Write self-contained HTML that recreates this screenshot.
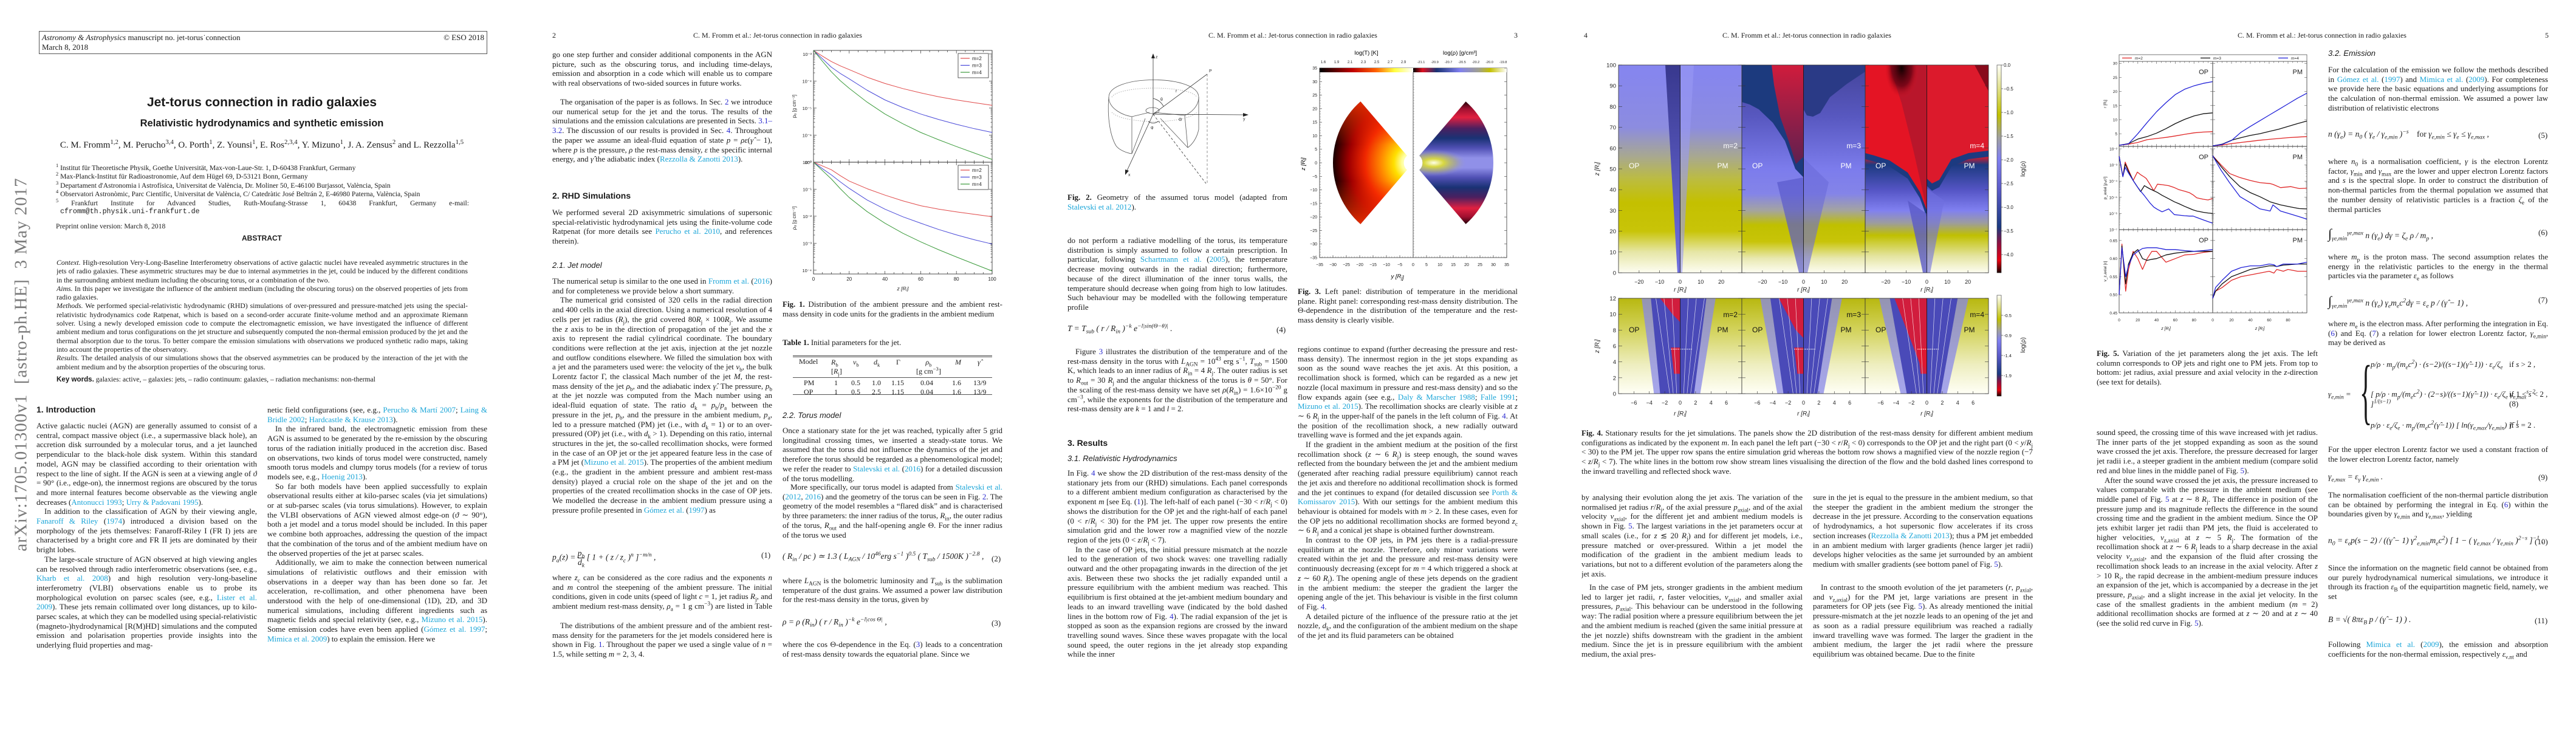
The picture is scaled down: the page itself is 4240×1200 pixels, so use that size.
<!DOCTYPE html>
<html><head><meta charset="utf-8">
<style>
*{margin:0;padding:0;box-sizing:border-box}
body{width:4240px;height:1200px;background:#fff;position:relative;overflow:hidden;font-family:"Liberation Serif",serif;color:#1a1a1a}
sub,sup{line-height:0;font-size:72%}
.pg{position:absolute;top:0;width:848px;height:1200px}
.t{position:absolute;font-size:13px;line-height:15.7px;text-align:justify;overflow:hidden;hyphens:auto}
.t p+p{text-indent:13px}
.c{color:#1aa5d8}
.b{color:#2a2ad0}
.h1{position:absolute;font-family:"Liberation Sans",sans-serif;font-weight:bold;font-size:14px}
.h2{position:absolute;font-family:"Liberation Sans",sans-serif;font-style:italic;font-size:13px}
.hd{position:absolute;top:51px;font-size:12px;width:848px;text-align:center}
.pn{position:absolute;top:51px;font-size:12px}
.eq{position:absolute;font-size:13.5px;font-style:italic;white-space:nowrap}
.eqn{position:absolute;font-size:13px;white-space:nowrap}
.cap{position:absolute;font-size:13px;line-height:15.7px;text-align:justify;overflow:hidden}
.ab{position:absolute;font-size:11.8px;line-height:14.3px;text-align:justify;overflow:hidden}
svg text{font-family:"Liberation Sans",sans-serif}
</style></head><body>

<!-- PAGE 1 -->
<div class="pg" style="left:0">
 <div style="position:absolute;left:64px;top:51px;width:738px;height:38px;border:1px solid #555;font-size:13px;line-height:16px;padding:2px 4px">
  <div><i>Astronomy &amp; Astrophysics</i> manuscript no. jet-torus˙connection<span style="float:right">© ESO 2018</span></div>
  <div>March 8, 2018</div>
 </div>
 <div style="position:absolute;left:0;width:862px;top:157px;text-align:center;font-family:'Liberation Sans',sans-serif;font-weight:bold;font-size:21px">Jet-torus connection in radio galaxies</div>
 <div style="position:absolute;left:0;width:862px;top:194px;text-align:center;font-family:'Liberation Sans',sans-serif;font-weight:bold;font-size:16.5px">Relativistic hydrodynamics and synthetic emission</div>
 <div style="position:absolute;left:0;width:862px;top:231px;text-align:center;font-size:15px">C. M. Fromm<sup>1,2</sup>, M. Perucho<sup>3,4</sup>, O. Porth<sup>1</sup>, Z. Younsi<sup>1</sup>, E. Ros<sup>2,3,4</sup>, Y. Mizuno<sup>1</sup>, J. A. Zensus<sup>2</sup> and L. Rezzolla<sup>1,5</sup></div>
 <div style="position:absolute;left:92px;top:270px;width:680px;font-size:11.6px;line-height:14.4px">
  <div><sup>1</sup> Institut für Theoretische Physik, Goethe Universität, Max-von-Laue-Str. 1, D-60438 Frankfurt, Germany</div>
  <div><sup>2</sup> Max-Planck-Institut für Radioastronomie, Auf dem Hügel 69, D-53121 Bonn, Germany</div>
  <div><sup>3</sup> Departament d'Astronomia i Astrofísica, Universitat de València, Dr. Moliner 50, E-46100 Burjassot, València, Spain</div>
  <div><sup>4</sup> Observatori Astronòmic, Parc Científic, Universitat de València, C/ Catedràtic José Beltrán 2, E-46980 Paterna, València, Spain</div>
  <div style="text-align:justify;text-align-last:justify"><sup>5</sup> Frankfurt Institute for Advanced Studies, Ruth-Moufang-Strasse 1, 60438 Frankfurt, Germany e-mail:</div>
  <div style="font-family:'Liberation Mono',monospace;padding-left:7px">cfromm@th.physik.uni-frankfurt.de</div>
 </div>
 <div style="position:absolute;left:92px;top:366px;font-size:11.6px">Preprint online version: March 8, 2018</div>
 <div style="position:absolute;left:0;width:862px;top:385px;text-align:center;font-family:'Liberation Sans',sans-serif;font-weight:bold;font-size:12px">ABSTRACT</div>
 <div class="ab" style="left:93px;top:425px;width:677px;height:186px">
  <div><i>Context.</i> High-resolution Very-Long-Baseline Interferometry observations of active galactic nuclei have revealed asymmetric structures in the jets of radio galaxies. These asymmetric structures may be due to internal asymmetries in the jet, could be induced by the different conditions in the surrounding ambient medium including the obscuring torus, or a combination of the two.</div>
  <div><i>Aims.</i> In this paper we investigate the influence of the ambient medium (including the obscuring torus) on the observed properties of jets from radio galaxies.</div>
  <div><i>Methods.</i> We performed special-relativistic hydrodynamic (RHD) simulations of over-pressured and pressure-matched jets using the special-relativistic hydrodynamics code Ratpenat, which is based on a second-order accurate finite-volume method and an approximate Riemann solver. Using a newly developed emission code to compute the electromagnetic emission, we have investigated the influence of different ambient medium and torus configurations on the jet structure and subsequently computed the non-thermal emission produced by the jet and the thermal absorption due to the torus. To better compare the emission simulations with observations we produced synthetic radio maps, taking into account the properties of the observatory.</div>
  <div><i>Results.</i> The detailed analysis of our simulations shows that the observed asymmetries can be produced by the interaction of the jet with the ambient medium and by the absorption properties of the obscuring torus.</div>
 </div>
 <div style="position:absolute;left:93px;top:618px;font-size:11.6px"><b style="font-family:'Liberation Sans',sans-serif">Key words.</b> galaxies: active, – galaxies: jets, – radio continuum: galaxies, – radiation mechanisms: non-thermal</div>
 <div style="position:absolute;left:35px;top:600px;transform:translate(-50%,-50%) rotate(-90deg);white-space:nowrap;font-size:29px;color:#7a7a7a;letter-spacing:1px">arXiv:1705.01300v1&nbsp; [astro-ph.HE]&nbsp; 3 May 2017</div>
 <div class="h1" style="left:60px;top:666px">1. Introduction</div>
 <div class="t" style="left:60px;top:693px;width:363px;height:393px">
  <p>Active galactic nuclei (AGN) are generally assumed to consist of a central, compact massive object (i.e., a supermassive black hole), an accretion disk surrounded by a molecular torus, and a jet launched perpendicular to the black-hole disk system. Within this standard model, AGN may be classified according to their orientation with respect to the line of sight. If the AGN is seen at a viewing angle of <i>ϑ</i> = 90° (i.e., edge-on), the innermost regions are obscured by the torus and more internal features become observable as the viewing angle decreases (<span class="c">Antonucci 1993</span>; <span class="c">Urry &amp; Padovani 1995</span>).</p>
  <p>In addition to the classification of AGN by their viewing angle, <span class="c">Fanaroff &amp; Riley</span> (<span class="c">1974</span>) introduced a division based on the morphology of the jets themselves: Fanaroff-Riley I (FR I) jets are characterised by a bright core and FR II jets are dominated by their bright lobes.</p>
  <p>The large-scale structure of AGN observed at high viewing angles can be resolved through radio interferometric observations (see, e.g., <span class="c">Kharb et al. 2008</span>) and high resolution very-long-baseline interferometry (VLBI) observations enable us to probe its morphological evolution on parsec scales (see, e.g., <span class="c">Lister et al. 2009</span>). These jets remain collimated over long distances, up to kilo-parsec scales, at which they can be modelled using special-relativistic (magneto-)hydrodynamical [R(M)HD] simulations and the computed emission and polarisation properties provide insights into the underlying fluid properties and mag-</p>
 </div>
 <div class="t" style="left:440px;top:667px;width:362px;height:409px">
  <p>netic field configurations (see, e.g., <span class="c">Perucho &amp; Martí 2007</span>; <span class="c">Laing &amp; Bridle 2002</span>; <span class="c">Hardcastle &amp; Krause 2013</span>).</p>
  <p>In the infrared band, the electromagnetic emission from these AGN is assumed to be generated by the re-emission by the obscuring torus of the radiation initially produced in the accretion disc. Based on observations, two kinds of torus model were constructed, namely smooth torus models and clumpy torus models (for a review of torus models see, e.g., <span class="c">Hoenig 2013</span>).</p>
  <p>So far both models have been applied successfully to explain observational results either at kilo-parsec scales (via jet simulations) or at sub-parsec scales (via torus simulations). However, to explain the VLBI observations of AGN viewed almost edge-on (<i>ϑ</i> ∼ 90°), both a jet model and a torus model should be included. In this paper we combine both approaches, addressing the question of the impact that the combination of the torus and of the ambient medium have on the observed properties of the jet at parsec scales.</p>
  <p>Additionally, we aim to make the connection between numerical simulations of relativistic outflows and their emission with observations in a deeper way than has been done so far. Jet acceleration, re-collimation, and other phenomena have been understood with the help of one-dimensional (1D), 2D, and 3D numerical simulations, including different ingredients such as magnetic fields and special relativity (see, e.g., <span class="c">Mizuno et al. 2015</span>). Some emission codes have even been applied (<span class="c">Gómez et al. 1997</span>; <span class="c">Mimica et al. 2009</span>) to explain the emission. Here we</p>
 </div>
</div>

<!-- PAGE 2 -->
<div class="pg" style="left:848px">
 <div class="pn" style="left:61px">2</div>
 <div class="hd" style="left:8px">C. M. Fromm et al.: Jet-torus connection in radio galaxies</div>
 <div class="t" style="left:61px;top:82px;width:362px;height:79px"><p>go one step further and consider additional components in the AGN picture, such as the obscuring torus, and including time-delays, emission and absorption in a code which will enable us to compare with real observations of two-sided sources in future works.</p></div>
 <div class="t" style="left:61px;top:160px;width:362px;height:126px"><p style="text-indent:13px">The organisation of the paper is as follows. In Sec. <span class="b">2</span> we introduce our numerical setup for the jet and the torus. The results of the simulations and the emission calculations are presented in Sects. <span class="b">3.1–3.2</span>. The discussion of our results is provided in Sec. <span class="b">4</span>. Throughout the paper we assume an ideal-fluid equation of state <i>p</i> = <i>ρε</i>(<i>γ̂</i> − 1), where <i>p</i> is the pressure, <i>ρ</i> the rest-mass density, <i>ε</i> the specific internal energy, and <i>γ̂</i> the adiabatic index (<span class="c">Rezzolla &amp; Zanotti 2013</span>).</p></div>
 <div class="h1" style="left:61px;top:314px">2. RHD Simulations</div>
 <div class="t" style="left:61px;top:342px;width:362px;height:63px"><p>We performed several 2D axisymmetric simulations of supersonic special-relativistic hydrodynamical jets using the finite-volume code Ratpenat (for more details see <span class="c">Perucho et al. 2010</span>, and references therein).</p></div>
 <div class="h2" style="left:61px;top:429px">2.1. Jet model</div>
 <div class="t" style="left:61px;top:455px;width:362px;height:409px"><p>The numerical setup is similar to the one used in <span class="c">Fromm et al.</span> (<span class="c">2016</span>) and for completeness we provide below a short summary.</p><p>The numerical grid consisted of 320 cells in the radial direction and 400 cells in the axial direction. Using a numerical resolution of 4 cells per jet radius (<i>R</i><sub>j</sub>), the grid covered 80<i>R</i><sub>j</sub> × 100<i>R</i><sub>j</sub>. We assume the <i>z</i> axis to be in the direction of propagation of the jet and the <i>x</i> axis to represent the radial cylindrical coordinate. The boundary conditions were reflection at the jet axis, injection at the jet nozzle and outflow conditions elsewhere. We filled the simulation box with a jet and the parameters used were: the velocity of the jet <i>v</i><sub>b</sub>, the bulk Lorentz factor Γ, the classical Mach number of the jet <i>M</i>, the rest-mass density of the jet <i>ρ</i><sub>b</sub>, and the adiabatic index <i>γ̂</i>. The pressure, <i>p</i><sub>b</sub> at the jet nozzle was computed from the Mach number using an ideal-fluid equation of state. The ratio <i>d</i><sub>k</sub> = <i>p</i><sub>b</sub>/<i>p</i><sub>a</sub> between the pressure in the jet, <i>p</i><sub>b</sub>, and the pressure in the ambient medium, <i>p</i><sub>a</sub>, led to a pressure matched (PM) jet (i.e., with <i>d</i><sub>k</sub> = 1) or to an over-pressured (OP) jet (i.e., with <i>d</i><sub>k</sub> &gt; 1). Depending on this ratio, internal structures in the jet, the so-called recollimation shocks, were formed in the case of an OP jet or the jet appeared feature less in the case of a PM jet (<span class="c">Mizuno et al. 2015</span>). The properties of the ambient medium (e.g., the gradient in the ambient pressure and ambient rest-mass density) played a crucial role on the shape of the jet and on the properties of the created recollimation shocks in the case of OP jets. We modelled the decrease in the ambient medium pressure using a pressure profile presented in <span class="c">Gómez et al.</span> (<span class="c">1997</span>) as</p></div>
 <div class="eq" style="left:61px;top:904px">p<sub>a</sub>(z) = <span style="display:inline-block;vertical-align:middle;text-align:center;line-height:14px"><span style="border-bottom:1px solid #222;display:block">p<sub>b</sub></span>d<sub>k</sub></span> [ 1 + ( z / z<sub>c</sub> )<sup>n</sup> ]<sup>−m/n</sup> ,</div>
 <div class="eqn" style="left:405px;top:906px">(1)</div>
 <div class="t" style="left:61px;top:943px;width:362px;height:63px"><p>where <i>z</i><sub>c</sub> can be considered as the core radius and the exponents <i>n</i> and <i>m</i> control the steepening of the ambient pressure. The initial conditions, given in code units (speed of light <i>c</i> = 1, jet radius <i>R</i><sub>j</sub>, and ambient medium rest-mass density, <i>ρ</i><sub>a</sub> = 1 g cm<sup>−3</sup>) are listed in Table <span class="b">1</span></p></div>
 <div class="t" style="left:61px;top:1022px;width:362px;height:63px"><p style="text-indent:13px">The distributions of the ambient pressure and of the ambient rest-mass density for the parameters for the jet models considered here is shown in Fig. <span class="b">1</span>. Throughout the paper we used a single value of <i>n</i> = 1.5, while setting <i>m</i> = 2, 3, 4.</p></div>

 <div class="cap" style="left:440px;top:493px;width:362px;height:48px"><b>Fig. 1.</b> Distribution of the ambient pressure and the ambient rest-mass density in code units for the gradients in the ambient medium</div>
 <div class="cap" style="left:440px;top:556px;width:362px;height:16px"><b>Table 1.</b> Initial parameters for the jet.</div>
 <div style="position:absolute;left:457px;top:585px;width:328px;height:65px;border-top:3px double #555;border-bottom:1px solid #555;font-size:12px">
  <div style="position:absolute;left:0;right:0;top:33px;border-top:1px solid #555"></div>
  <div style="position:absolute;top:1px;left:10px;line-height:13px">Model</div>
  <div style="position:absolute;top:1px;left:63px;line-height:15px"><i>R</i><sub>b</sub><br>[<i>R</i><sub>j</sub>]</div>
  <div style="position:absolute;top:1px;left:99px"><i>v</i><sub>b</sub></div>
  <div style="position:absolute;top:1px;left:133px"><i>d</i><sub>k</sub></div>
  <div style="position:absolute;top:1px;left:170px">Γ</div>
  <div style="position:absolute;top:1px;left:203px;line-height:15px;text-align:center"><i>ρ</i><sub>b</sub><br>[g cm<sup>−3</sup>]</div>
  <div style="position:absolute;top:1px;left:267px"><i>M</i></div>
  <div style="position:absolute;top:1px;left:304px"><i>γ̂</i></div>
  <div style="position:absolute;top:35px;left:0;width:328px;line-height:15px;word-spacing:0">
   <div style="position:relative;height:15px"><span style="position:absolute;left:18px">PM</span><span style="position:absolute;left:68px">1</span><span style="position:absolute;left:96px">0.5</span><span style="position:absolute;left:130px">1.0</span><span style="position:absolute;left:162px">1.15</span><span style="position:absolute;left:210px">0.04</span><span style="position:absolute;left:262px">1.6</span><span style="position:absolute;left:297px">13/9</span></div>
   <div style="position:relative;height:15px"><span style="position:absolute;left:18px">OP</span><span style="position:absolute;left:68px">1</span><span style="position:absolute;left:96px">0.5</span><span style="position:absolute;left:130px">2.5</span><span style="position:absolute;left:162px">1.15</span><span style="position:absolute;left:210px">0.04</span><span style="position:absolute;left:262px">1.6</span><span style="position:absolute;left:297px">13/9</span></div>
  </div>
 </div>
 <div class="h2" style="left:440px;top:676px">2.2. Torus model</div>
 <div class="t" style="left:440px;top:701px;width:362px;height:95px"><p>Once a stationary state for the jet was reached, typically after 5 grid longitudinal crossing times, we inserted a steady-state torus. We assumed that the torus did not influence the dynamics of the jet and therefore the torus should be regarded as a phenomenological model; we refer the reader to <span class="c">Stalevski et al.</span> (<span class="c">2016</span>) for a detailed discussion of the torus modelling.</p></div>
 <div class="t" style="left:440px;top:794px;width:362px;height:95px"><p style="text-indent:13px">More specifically, our torus model is adapted from <span class="c">Stalevski et al.</span> (<span class="c">2012</span>, <span class="c">2016</span>) and the geometry of the torus can be seen in Fig. <span class="b">2</span>. The geometry of the model resembles a “flared disk” and is characterised by three parameters: the inner radius of the torus, <i>R</i><sub>in</sub>, the outer radius of the torus, <i>R</i><sub>out</sub> and the half-opening angle Θ. For the inner radius of the torus we used</p></div>
 <div class="eq" style="left:440px;top:908px">( R<sub>in</sub> / pc ) ≃ 1.3 ( L<sub>AGN</sub> / 10<sup>46</sup>erg s<sup>−1</sup> )<sup>0.5</sup> ( T<sub>sub</sub> / 1500K )<sup>−2.8</sup> ,</div>
 <div class="eqn" style="left:784px;top:912px">(2)</div>
 <div class="t" style="left:440px;top:948px;width:362px;height:48px"><p>where <i>L</i><sub>AGN</sub> is the bolometric luminosity and <i>T</i><sub>sub</sub> is the sublimation temperature of the dust grains. We assumed a power law distribution for the rest-mass density in the torus, given by</p></div>
 <div class="eq" style="left:440px;top:1016px">ρ = ρ (R<sub>in</sub>) ( r / R<sub>in</sub> )<sup>−k</sup> e<sup>−l|cos Θ|</sup> ,</div>
 <div class="eqn" style="left:784px;top:1018px">(3)</div>
 <div class="t" style="left:440px;top:1053px;width:362px;height:32px"><p>where the cos Θ-dependence in the Eq. (<span class="b">3</span>) leads to a concentration of rest-mass density towards the equatorial plane. Since we</p></div>
</div>

<!-- PAGE 3 -->
<div class="pg" style="left:1696px">
 <div class="hd" style="left:8px">C. M. Fromm et al.: Jet-torus connection in radio galaxies</div>
 <div class="pn" style="left:796px">3</div>
 <div class="cap" style="left:61px;top:317px;width:362px;height:32px"><b>Fig. 2.</b> Geometry of the assumed torus model (adapted from <span class="c">Stalevski et al. 2012</span>).</div>
 <div class="t" style="left:61px;top:388px;width:362px;height:126px"><p>do not perform a radiative modelling of the torus, its temperature distribution is simply assumed to follow a certain prescription. In particular, following <span class="c">Schartmann et al.</span> (<span class="c">2005</span>), the temperature decrease moving outwards in the radial direction; furthermore, because of the direct illumination of the inner torus walls, the temperature should decrease when going from high to low latitudes. Such behaviour may be modelled with the following temperature profile</p></div>
 <div class="eq" style="left:61px;top:533px">T = T<sub>sub</sub> ( r / R<sub>in</sub> )<sup>−k</sup> e<sup>−l|sin(Θ−θ)|</sup> .</div>
 <div class="eqn" style="left:405px;top:535px">(4)</div>
 <div class="t" style="left:61px;top:571px;width:362px;height:110px"><p style="text-indent:13px">Figure <span class="b">3</span> illustrates the distribution of the temperature and of the rest-mass density in the torus with <i>L</i><sub>AGN</sub> = 10<sup>43</sup> erg s<sup>−1</sup>, <i>T</i><sub>sub</sub> = 1500 K, which leads to an inner radius of <i>R</i><sub>in</sub> = 4 <i>R</i><sub>j</sub>. The outer radius is set to <i>R</i><sub>out</sub> = 30 <i>R</i><sub>j</sub> and the angular thickness of the torus is <i>θ</i> = 50°. For the scaling of the rest-mass density we have set <i>ρ</i>(<i>R</i><sub>in</sub>) = 1.6×10<sup>−20</sup> g cm<sup>−3</sup>, while the exponents for the distribution of the temperature and rest-mass density are <i>k</i> = 1 and <i>l</i> = 2.</p></div>
 <div class="h1" style="left:61px;top:721px">3. Results</div>
 <div class="h2" style="left:61px;top:747px">3.1. Relativistic Hydrodynamics</div>
 <div class="t" style="left:61px;top:771px;width:362px;height:314px"><p>In Fig. <span class="b">4</span> we show the 2D distribution of the rest-mass density of the stationary jets from our (RHD) simulations. Each panel corresponds to a different ambient medium configuration as characterised by the exponent <i>m</i> [see Eq. (<span class="b">1</span>)]. The left-half of each panel (−30 &lt; <i>r</i>/<i>R</i><sub>j</sub> &lt; 0) shows the distribution for the OP jet and the right-half of each panel (0 &lt; <i>r</i>/<i>R</i><sub>j</sub> &lt; 30) for the PM jet. The upper row presents the entire simulation grid and the lower row a magnified view of the nozzle region of the jets (0 &lt; <i>z</i>/<i>R</i><sub>j</sub> &lt; 7).</p><p>In the case of OP jets, the initial pressure mismatch at the nozzle led to the generation of two shock waves: one travelling radially outward and the other propagating inwards in the direction of the jet axis. Between these two shocks the jet radially expanded until a pressure equilibrium with the ambient medium was reached. This equilibrium is first obtained at the jet-ambient medium boundary and leads to an inward travelling wave (indicated by the bold dashed lines in the bottom row of Fig. <span class="b">4</span>). The radial expansion of the jet is stopped as soon as the expansion regions are crossed by the inward travelling sound waves. Since these waves propagate with the local sound speed, the outer regions in the jet already stop expanding while the inner</p></div>
 <div class="cap" style="left:440px;top:472px;width:362px;height:64px"><b>Fig. 3.</b> Left panel: distribution of temperature in the meridional plane. Right panel: corresponding rest-mass density distribution. The Θ-dependence in the distribution of the temperature and the rest-mass density is clearly visible.</div>
 <div class="t" style="left:440px;top:567px;width:362px;height:518px"><p>regions continue to expand (further decreasing the pressure and rest-mass density). The innermost region in the jet stops expanding as soon as the sound wave reaches the jet axis. At this position, a recollimation shock is formed, which can be regarded as a new jet nozzle (local maximum in pressure and rest-mass density) and so the flow expands again (see e.g., <span class="c">Daly &amp; Marscher 1988</span>; <span class="c">Falle 1991</span>; <span class="c">Mizuno et al. 2015</span>). The recollimation shocks are clearly visible at <i>z</i> ∼ 6 <i>R</i><sub>j</sub> in the upper-half of the panels in the left column of Fig. <span class="b">4</span>. At the position of the recollimation shock, a new radially outward travelling wave is formed and the jet expands again.</p><p>If the gradient in the ambient medium at the position of the first recollimation shock (<i>z</i> ∼ 6 <i>R</i><sub>j</sub>) is steep enough, the sound waves reflected from the boundary between the jet and the ambient medium (generated after reaching radial pressure equilibrium) cannot reach the jet axis and therefore no additional recollimation shock is formed and the jet continues to expand (for detailed discussion see <span class="c">Porth &amp; Komissarov 2015</span>). With our settings for the ambient medium this behaviour is obtained for models with <i>m</i> &gt; 2. In these cases, even for the OP jets no additional recollimation shocks are formed beyond <i>z</i><sub>c</sub> ∼ 6 <i>R</i><sub>j</sub> and a conical jet shape is obtained further downstream.</p><p>In contrast to the OP jets, in PM jets there is a radial-pressure equilibrium at the nozzle. Therefore, only minor variations were created within the jet and the pressure and rest-mass density were continuously decreasing (except for <i>m</i> = 4 which triggered a shock at <i>z</i> ∼ 60 <i>R</i><sub>j</sub>). The opening angle of these jets depends on the gradient in the ambient medium: the steeper the gradient the larger the opening angle of the jet. This behaviour is visible in the first column of Fig. <span class="b">4</span>.</p><p>A detailed picture of the influence of the pressure ratio at the jet nozzle, <i>d</i><sub>k</sub>, and the configuration of the ambient medium on the shape of the jet and its fluid parameters can be obtained</p></div>
</div>

<!-- PAGE 4 -->
<div class="pg" style="left:2544px">
 <div class="pn" style="left:63px">4</div>
 <div class="hd" style="left:6px">C. M. Fromm et al.: Jet-torus connection in radio galaxies</div>
 <div class="cap" style="left:59px;top:705px;width:743px;height:80px"><b>Fig. 4.</b> Stationary results for the jet simulations. The panels show the 2D distribution of the rest-mass density for different ambient medium configurations as indicated by the exponent <i>m</i>. In each panel the left part (−30 &lt; <i>r</i>/<i>R</i><sub>j</sub> &lt; 0) corresponds to the OP jet and the right part (0 &lt; <i>y</i>/<i>R</i><sub>j</sub> &lt; 30) to the PM jet. The upper row spans the entire simulation grid whereas the bottom row shows a magnified view of the nozzle region (−7 &lt; <i>z</i>/<i>R</i><sub>j</sub> &lt; 7). The white lines in the bottom row show stream lines visualising the direction of the flow and the bold dashed lines correspond to the inward travelling and reflected shock wave.</div>
 <div class="t" style="left:59px;top:811px;width:364px;height:142px"><p>by analysing their evolution along the jet axis. The variation of the normalised jet radius <i>r</i>/<i>R</i><sub>j</sub>, of the axial pressure <i>p</i><sub>axial</sub>, and of the axial velocity <i>v</i><sub>axial</sub>, for the different jet and ambient medium models is shown in Fig. <span class="b">5</span>. The largest variations in the jet parameters occur at small scales (i.e., for <i>z</i> ≲ 20 <i>R</i><sub>j</sub>) and for different jet models, i.e., pressure matched or over-pressured. Within a jet model the modification of the gradient in the ambient medium leads to variations, but not to a different evolution of the parameters along the jet axis.</p></div>
 <div class="t" style="left:59px;top:959px;width:364px;height:126px"><p style="text-indent:13px">In the case of PM jets, stronger gradients in the ambient medium led to larger jet radii, <i>r</i>, faster velocities, <i>v</i><sub>axial</sub>, and smaller axial pressures, <i>p</i><sub>axial</sub>. This behaviour can be understood in the following way: The radial position where a pressure equilibrium between the jet and the ambient medium is reached (given the same initial pressure at the jet nozzle) shifts downstream with the gradient in the ambient medium. Since the jet is in pressure equilibrium with the ambient medium, the axial pres-</p></div>
 <div class="t" style="left:440px;top:811px;width:362px;height:142px"><p>sure in the jet is equal to the pressure in the ambient medium, so that the steeper the gradient in the ambient medium the stronger the decrease in the jet pressure. According to the conservation equations of hydrodynamics, a hot supersonic flow accelerates if its cross section increases (<span class="c">Rezzolla &amp; Zanotti 2013</span>); thus a PM jet embedded in an ambient medium with larger gradients (hence larger jet radii) develops higher velocities as the same jet surrounded by an ambient medium with smaller gradients (see bottom panel of Fig. <span class="b">5</span>).</p></div>
 <div class="t" style="left:440px;top:959px;width:362px;height:126px"><p style="text-indent:13px">In contrast to the smooth evolution of the jet parameters (<i>r</i>, <i>p</i><sub>axial</sub>, and <i>v</i><sub>z,axial</sub>) for the PM jet, large variations are present in the parameters for OP jets (see Fig. <span class="b">5</span>). As already mentioned the initial pressure-mismatch at the jet nozzle leads to an opening of the jet and as soon as a radial pressure equilibrium was reached a radially inward travelling wave was formed. The larger the gradient in the ambient medium, the larger the jet radii where the pressure equilibrium was obtained became. Due to the finite</p></div>
</div>

<!-- PAGE 5 -->
<div class="pg" style="left:3392px">
 <div class="hd" style="left:6px">C. M. Fromm et al.: Jet-torus connection in radio galaxies</div>
 <div class="pn" style="left:797px">5</div>
 <div class="cap" style="left:59px;top:574px;width:364px;height:64px"><b>Fig. 5.</b> Variation of the jet parameters along the jet axis. The left column corresponds to OP jets and right one to PM jets. From top to bottom: jet radius, axial pressure and axial velocity in the <i>z</i>-direction (see text for details).</div>
 <div class="t" style="left:59px;top:704px;width:364px;height:362px"><p>sound speed, the crossing time of this wave increased with jet radius. The inner parts of the jet stopped expanding as soon as the sound wave crossed the jet axis. Therefore, the pressure decreased for larger jet radii i.e., a steeper gradient in the ambient medium (compare solid red and blue lines in the middle panel of Fig. <span class="b">5</span>).</p><p>After the sound wave crossed the jet axis, the pressure increased to values comparable with the pressure in the ambient medium (see middle panel of Fig. <span class="b">5</span> at <i>z</i> ∼ 8 <i>R</i><sub>j</sub>. The difference in position of the pressure jump and its magnitude reflects the difference in the sound crossing time and the gradient in the ambient medium. Since the OP jets exhibit larger jet radii than PM jets, the fluid is accelerated to higher velocities, <i>v</i><sub>z,axial</sub> at <i>z</i> ∼ 5 <i>R</i><sub>j</sub>. The formation of the recollimation shock at <i>z</i> ∼ 6 <i>R</i><sub>j</sub> leads to a sharp decrease in the axial velocity <i>v</i><sub>z,axial</sub>, and the expansion of the fluid after crossing the recollimation shock leads to an increase in the axial velocity. After <i>z</i> &gt; 10 R<sub>j</sub>, the rapid decrease in the ambient-medium pressure induces an expansion of the jet, which is accompanied by a decrease in the jet pressure, <i>p</i><sub>axial</sub>, and a slight increase in the axial jet velocity. In the case of the smallest gradients in the ambient medium (<i>m</i> = 2) additional recollimation shocks are formed at <i>z</i> ∼ 20 and at <i>z</i> ∼ 40 (see the solid red curve in Fig. <span class="b">5</span>).</p></div>
 <div class="h2" style="left:440px;top:80px">3.2. Emission</div>
 <div class="t" style="left:440px;top:107px;width:362px;height:79px"><p>For the calculation of the emission we follow the methods described in <span class="c">Gómez et al.</span> (<span class="c">1997</span>) and <span class="c">Mimica et al.</span> (<span class="c">2009</span>). For completeness we provide here the basic equations and underlying assumptions for the calculation of non-thermal emission. We assumed a power law distribution of relativistic electrons</p></div>
 <div class="eq" style="left:440px;top:213px">n (γ<sub>e</sub>) = n<sub>0</sub> ( γ<sub>e</sub> / γ<sub>e,min</sub> )<sup>−s</sup> &nbsp;&nbsp;&nbsp;<span style="font-style:normal">for</span> γ<sub>e,min</sub> ≤ γ<sub>e</sub> ≤ γ<sub>e,max</sub> ,</div>
 <div class="eqn" style="left:786px;top:215px">(5)</div>
 <div class="t" style="left:440px;top:258px;width:362px;height:95px"><p>where <i>n</i><sub>0</sub> is a normalisation coefficient, <i>γ</i> is the electron Lorentz factor, <i>γ</i><sub>min</sub> and <i>γ</i><sub>max</sub> are the lower and upper electron Lorentz factors and <i>s</i> is the spectral slope. In order to construct the distribution of non-thermal particles from the thermal population we assumed that the number density of relativistic particles is a fraction <i>ζ</i><sub>e</sub> of the thermal particles</p></div>
 <div class="eq" style="left:440px;top:372px"><span style="font-size:22px;font-style:normal">∫</span><sub>γe,min</sub><sup>γe,max</sup> n (γ<sub>e</sub>) dγ = ζ<sub>e</sub> ρ / m<sub>p</sub> ,</div>
 <div class="eqn" style="left:786px;top:375px">(6)</div>
 <div class="t" style="left:440px;top:415px;width:362px;height:48px"><p>where <i>m</i><sub>p</sub> is the proton mass. The second assumption relates the energy in the relativistic particles to the energy in the thermal particles via the parameter <i>ε</i><sub>e</sub> as follows</p></div>
 <div class="eq" style="left:440px;top:483px"><span style="font-size:22px;font-style:normal">∫</span><sub>γe,min</sub><sup>γe,max</sup> n (γ<sub>e</sub>) γ<sub>e</sub>m<sub>e</sub>c<sup>2</sup>dγ = ε<sub>e</sub> p / (γ̂ − 1) ,</div>
 <div class="eqn" style="left:786px;top:486px">(7)</div>
 <div class="t" style="left:440px;top:525px;width:362px;height:48px"><p>where <i>m</i><sub>e</sub> is the electron mass. After performing the integration in Eq. (<span class="b">6</span>) and Eq. (<span class="b">7</span>) a relation for lower electron Lorentz factor, <i>γ</i><sub>e,min</sub>, may be derived as</p></div>
 <div style="position:absolute;left:440px;top:588px;width:370px;height:130px;font-size:13px;font-style:italic">
  <div style="position:absolute;left:0;top:53px">γ<sub>e,min</sub> =</div>
  <div style="position:absolute;left:52px;top:-4px;font-size:120px;font-style:normal;line-height:120px;transform:scaleX(0.35);transform-origin:left top">{</div>
  <div style="position:absolute;left:70px;top:4px">p/ρ · m<sub>p</sub>/(m<sub>e</sub>c<sup>2</sup>) · (s−2)/((s−1)(γ̂−1)) · ε<sub>e</sub>/ζ<sub>e</sub></div>
  <div style="position:absolute;left:298px;top:4px;font-style:normal">if <i>s</i> &gt; 2 ,</div>
  <div style="position:absolute;left:70px;top:53px">[ p/ρ · m<sub>p</sub>/(m<sub>e</sub>c<sup>2</sup>) · (2−s)/((s−1)(γ̂−1)) · ε<sub>e</sub>/ζ<sub>e</sub> γ<sub>e,max</sub><sup>s−2</sup> ]<sup>1/(s−1)</sup></div>
  <div style="position:absolute;left:298px;top:53px;font-style:normal">if 1 &lt; <i>s</i> &lt; 2 , (8)</div>
  <div style="position:absolute;left:70px;top:104px">p/ρ · ε<sub>e</sub>/ζ<sub>e</sub> · m<sub>p</sub>/(m<sub>e</sub>c<sup>2</sup>(γ̂−1)) [ ln(γ<sub>e,max</sub>/γ<sub>e,min</sub>) ]<sup>−1</sup></div>
  <div style="position:absolute;left:298px;top:104px;font-style:normal">if <i>s</i> = 2 .</div>
 </div>
 <div class="t" style="left:440px;top:732px;width:362px;height:32px"><p>For the upper electron Lorentz factor we used a constant fraction of the lower electron Lorentz factor, namely</p></div>
 <div class="eq" style="left:440px;top:777px">γ<sub>e,max</sub> = ε<sub>γ</sub> γ<sub>e,min</sub> .</div>
 <div class="eqn" style="left:786px;top:778px">(9)</div>
 <div class="t" style="left:440px;top:807px;width:362px;height:48px"><p>The normalisation coefficient of the non-thermal particle distribution can be obtained by performing the integral in Eq. (<span class="b">6</span>) within the boundaries given by <i>γ</i><sub>e,min</sub> and <i>γ</i><sub>e,max</sub>, yielding</p></div>
 <div class="eq" style="left:440px;top:882px">n<sub>0</sub> = ε<sub>e</sub>p(s − 2) / ((γ̂ − 1) γ<sup>2</sup><sub>e,min</sub>m<sub>e</sub>c<sup>2</sup>) [ 1 − ( γ<sub>e,max</sub> / γ<sub>e,min</sub> )<sup>2−s</sup> ]<sup>−1</sup> .</div>
 <div class="eqn" style="left:780px;top:884px">(10)</div>
 <div class="t" style="left:440px;top:927px;width:362px;height:63px"><p>Since the information on the magnetic field cannot be obtained from our purely hydrodynamical numerical simulations, we introduce it through its fraction <i>ε</i><sub>B</sub> of the equipartition magnetic field, namely, we set</p></div>
 <div class="eq" style="left:440px;top:1012px">B = √( 8πε<sub>B</sub> p / (γ̂ − 1) ) .</div>
 <div class="eqn" style="left:780px;top:1014px">(11)</div>
 <div class="t" style="left:440px;top:1053px;width:362px;height:32px"><p>Following <span class="c">Mimica et al.</span> (<span class="c">2009</span>), the emission and absorption coefficients for the non-thermal emission, respectively <i>ε</i><sub>ν,nt</sub> and</p></div>
</div>

<!-- FIGURES -->
<svg id="charts" width="4240" height="1200" style="position:absolute;left:0;top:0" xmlns="http://www.w3.org/2000/svg">
 <defs>
  <radialGradient id="gT" gradientUnits="userSpaceOnUse" cx="2326" cy="268" r="132">
   <stop offset="0" stop-color="#ffffff"/><stop offset="0.14" stop-color="#ffffa0"/><stop offset="0.24" stop-color="#ffe000"/>
   <stop offset="0.4" stop-color="#ff8a00"/><stop offset="0.6" stop-color="#f02800"/><stop offset="0.8" stop-color="#a00000"/><stop offset="1" stop-color="#180000"/>
  </radialGradient>
  <linearGradient id="gTv" gradientUnits="userSpaceOnUse" x1="0" y1="167" x2="0" y2="369">
   <stop offset="0" stop-color="#ff3000" stop-opacity="0.9"/><stop offset="0.35" stop-color="#ff3000" stop-opacity="0"/>
   <stop offset="0.65" stop-color="#ff3000" stop-opacity="0"/><stop offset="1" stop-color="#ff3000" stop-opacity="0.9"/>
  </linearGradient>
  <linearGradient id="gR" gradientUnits="userSpaceOnUse" x1="0" y1="167" x2="0" y2="369">
   <stop offset="0" stop-color="#200008"/><stop offset="0.06" stop-color="#a01030"/><stop offset="0.13" stop-color="#e02040"/>
   <stop offset="0.22" stop-color="#4a2060"/><stop offset="0.3" stop-color="#1a3274"/><stop offset="0.38" stop-color="#5050b4"/>
   <stop offset="0.46" stop-color="#9090e8"/><stop offset="0.54" stop-color="#9090e8"/><stop offset="0.62" stop-color="#5050b4"/>
   <stop offset="0.7" stop-color="#1a3274"/><stop offset="0.78" stop-color="#4a2060"/><stop offset="0.87" stop-color="#e02040"/>
   <stop offset="0.94" stop-color="#a01030"/><stop offset="1" stop-color="#200008"/>
  </linearGradient>
  <radialGradient id="gRy" cx="0.5" cy="0.5" r="0.5">
   <stop offset="0" stop-color="#ffffe8"/><stop offset="0.3" stop-color="#d8d840"/><stop offset="0.65" stop-color="#b0b070" stop-opacity="0.6"/><stop offset="1" stop-color="#9090e8" stop-opacity="0"/>
  </radialGradient>
  <linearGradient id="cbT" x1="0" x2="1" y1="0" y2="0"><stop offset="0" stop-color="#000"/><stop offset="0.35" stop-color="#c00000"/><stop offset="0.6" stop-color="#ff6000"/><stop offset="0.8" stop-color="#ffff40"/><stop offset="1" stop-color="#fff"/></linearGradient>
  <linearGradient id="cbR" x1="0" x2="1" y1="0" y2="0"><stop offset="0" stop-color="#000"/><stop offset="0.1" stop-color="#e01020"/><stop offset="0.25" stop-color="#1a3274"/><stop offset="0.5" stop-color="#8080f0"/><stop offset="0.7" stop-color="#a0a090"/><stop offset="0.82" stop-color="#c4c000"/><stop offset="1" stop-color="#fff"/></linearGradient>
  <linearGradient id="cb4" x1="0" x2="0" y1="1" y2="0"><stop offset="0" stop-color="#180000"/><stop offset="0.06" stop-color="#e80010"/><stop offset="0.14" stop-color="#901040"/><stop offset="0.22" stop-color="#1a3a80"/><stop offset="0.4" stop-color="#5a5ac8"/><stop offset="0.55" stop-color="#8080f0"/><stop offset="0.65" stop-color="#a0a0a0"/><stop offset="0.76" stop-color="#c0c000"/><stop offset="0.9" stop-color="#e4e498"/><stop offset="1" stop-color="#fffff8"/></linearGradient>
  <linearGradient id="bg2" x1="0" x2="0" y1="0" y2="1"><stop offset="0" stop-color="#8585f0"/><stop offset="0.3" stop-color="#8c8ce0"/><stop offset="0.44" stop-color="#a8a890"/><stop offset="0.55" stop-color="#bcbc40"/><stop offset="0.66" stop-color="#c4c000"/><stop offset="0.8" stop-color="#c8c408"/><stop offset="0.9" stop-color="#e6e6a6"/><stop offset="1" stop-color="#fdfdf2"/></linearGradient>
  <linearGradient id="bg3" x1="0" x2="0" y1="0" y2="1"><stop offset="0" stop-color="#44449a"/><stop offset="0.25" stop-color="#5858c0"/><stop offset="0.5" stop-color="#7c7cec"/><stop offset="0.62" stop-color="#8484e8"/><stop offset="0.7" stop-color="#a4a4a0"/><stop offset="0.77" stop-color="#c0c000"/><stop offset="0.85" stop-color="#c8c408"/><stop offset="0.93" stop-color="#e8e8b0"/><stop offset="1" stop-color="#fdfdf2"/></linearGradient>
  <linearGradient id="bg4" x1="0" x2="0" y1="0" y2="1"><stop offset="0" stop-color="#e81020"/><stop offset="0.44" stop-color="#e01828"/><stop offset="0.48" stop-color="#1c3a80"/><stop offset="0.6" stop-color="#5454c4"/><stop offset="0.7" stop-color="#8080f0"/><stop offset="0.76" stop-color="#9c9ca0"/><stop offset="0.82" stop-color="#c0c000"/><stop offset="0.92" stop-color="#e4e4a0"/><stop offset="1" stop-color="#fdfdf2"/></linearGradient>
  <linearGradient id="bgN" x1="0" x2="0" y1="0" y2="1"><stop offset="0" stop-color="#b8b810"/><stop offset="0.35" stop-color="#d4d460"/><stop offset="0.7" stop-color="#eeeec0"/><stop offset="1" stop-color="#fffff6"/></linearGradient>
  <linearGradient id="jetL" x1="0" x2="0" y1="0" y2="1"><stop offset="0" stop-color="#38388e"/><stop offset="1" stop-color="#7070e0"/></linearGradient>
  <linearGradient id="red3" x1="0" x2="0" y1="0" y2="1"><stop offset="0" stop-color="#d01c3c"/><stop offset="1" stop-color="#602050"/></linearGradient>
  <radialGradient id="blk" cx="0.5" cy="0.5" r="0.5"><stop offset="0" stop-color="#100000"/><stop offset="0.6" stop-color="#600010" stop-opacity="0.7"/><stop offset="1" stop-color="#e01020" stop-opacity="0"/></radialGradient>
  <clipPath id="clipR"><path d="M2412.6,167.1 A132,133.7 0 0 1 2412.6,368.9 L2336.1,279.8 A15.4,15.6 0 0 0 2336.1,256.2 Z"/></clipPath>
  <clipPath id="clipP4"><rect x="3070" y="107" width="203" height="342"/></clipPath>
 </defs>

 <!-- Fig 2 torus geometry -->
 <g fill="none" stroke="#555" stroke-width="0.8">
  <path d="M1825,160 C1825,122 1973,122 1973,160" />
  <path d="M1825,160 C1825,180 1850,190 1863,192 M1973,160 C1973,175 1960,186 1950,190" />
  <path d="M1825,160 C1822,195 1828,225 1837,240 C1842,247 1855,252 1863,253" />
  <path d="M1973,160 L1973,213 C1970,228 1962,238 1955,243" />
  <path d="M1863,192 L1863,253 M1950,190 L1955,243" />
  <path d="M1863,192 L1892,185 M1900,185 L1950,190" />
  <path d="M1830,185 C1850,205 1950,205 1970,185" stroke-dasharray="1.5,2" stroke="#999"/>
  <path d="M1830,160 C1840,140 1960,140 1970,160" stroke-dasharray="1.5,2" stroke="#999"/>
  <ellipse cx="1897" cy="182" rx="11" ry="5"/>
  <path d="M1863,253 L1885,195 M1955,243 L1910,195"/>
  <line x1="1898" y1="188" x2="1898" y2="92" stroke="#333"/>
  <polygon points="1898,88 1895,96 1901,96" fill="#222" stroke="none"/>
  <line x1="1898" y1="188" x2="2050" y2="189" stroke="#333"/>
  <polygon points="2055,189 2046,186 2046,192" fill="#222" stroke="none"/>
  <line x1="1898" y1="188" x2="1854" y2="283" stroke="#333"/>
  <polygon points="1852,288 1852,279 1858,281" fill="#222" stroke="none"/>
  <line x1="1898" y1="188" x2="1987" y2="122" stroke="#333"/>
  <line x1="1898" y1="188" x2="1985" y2="302" stroke="#333" stroke-dasharray="4,3"/>
  <line x1="1987" y1="122" x2="1987" y2="302" stroke="#777" stroke-dasharray="4,3"/>
  <path d="M1898,162 A25,25 0 0 1 1915,175" stroke="#333"/>
  <path d="M1890,200 A14,14 0 0 0 1906,200" stroke="#333"/>
 </g>
 <g font-size="7" fill="#333">
  <text x="1902" y="96">z</text><text x="1990" y="119">P</text><text x="2046" y="198">y</text><text x="1857" y="290">x</text>
  <text x="1935" y="152">r</text><text x="1910" y="166">θ</text><text x="1940" y="199">Θ</text><text x="1894" y="212">φ</text>
 </g>

 <!-- Fig 3 torus temperature/density -->
 <g>
  <rect x="2172" y="112" width="308" height="312" fill="#fff" stroke="#333" stroke-width="0.8"/>
  <path d="M2239.4,167.1 A132,133.7 0 0 0 2239.4,368.9 L2315.9,279.8 A15.4,15.6 0 0 1 2315.9,256.2 Z" fill="url(#gT)"/>
  <path d="M2239.4,167.1 A132,133.7 0 0 0 2239.4,368.9 L2315.9,279.8 A15.4,15.6 0 0 1 2315.9,256.2 Z" fill="url(#gTv)"/>
  <path d="M2412.6,167.1 A132,133.7 0 0 1 2412.6,368.9 L2336.1,279.8 A15.4,15.6 0 0 0 2336.1,256.2 Z" fill="url(#gR)"/>
  <ellipse cx="2360" cy="268" rx="55" ry="22" fill="url(#gRy)" clip-path="url(#clipR)"/>
  <line x1="2326" y1="112" x2="2326" y2="424" stroke="#333" stroke-width="0.8"/>
  <rect x="2172" y="112" width="154" height="7" fill="url(#cbT)"/>
  <rect x="2326" y="112" width="154" height="7" fill="url(#cbR)"/>
  <text x="2249" y="90" font-size="9.5" text-anchor="middle" font-family="Liberation Serif">log(T) [K]</text>
  <text x="2403" y="90" font-size="9.5" text-anchor="middle" font-family="Liberation Serif">log(ρ) [g/cm³]</text>
  <text x="2300" y="458" font-size="9.5" text-anchor="middle" font-family="Liberation Serif" font-style="italic">y [R<tspan font-size="7" dy="2">j</tspan>]</text>
  <text x="2148" y="270" font-size="9.5" text-anchor="middle" font-family="Liberation Serif" font-style="italic" transform="rotate(-90 2148 270)">z [R<tspan font-size="7">j</tspan>]</text>
 </g>
 <g id="fig3ticks"></g>

 <!-- Fig 4 jet simulations -->
 <g>
  <rect x="2664" y="107" width="203" height="342" fill="url(#bg2)"/>
  <polygon points="2765.5,449 2761,449 2741,107 2765.5,107" fill="url(#jetL)"/>
  <polygon points="2765.5,449 2769,449 2788,107 2765.5,107" fill="#9a9af4" opacity="0.6"/>
  <rect x="2867" y="107" width="203" height="342" fill="url(#bg3)"/>
  <polygon points="2867,107 2968.5,107 2968.5,292 2955,278 2938,232 2918,202 2895,180 2880,172 2867,168" fill="#1c3a7e"/>
  <polygon points="2916,107 2968.5,107 2968.5,258 2956,270 2944,232 2930,192 2920,140" fill="url(#red3)"/>
  <polygon points="2968.5,107 3070,107 3070,118 3040,138 3012,160 2996,186 2984,192 2974,190 2968.5,180" fill="#2a3a86"/>
  <polygon points="2968.5,449 2961,449 2925,300 2968.5,292" fill="#5a5acc" opacity="0.7"/>
  <polygon points="2968.5,449 2975,449 3010,300 2968.5,260" fill="#6a6ad8" opacity="0.6"/>
  <g clip-path="url(#clipP4)">
  <rect x="3070" y="107" width="203" height="342" fill="url(#bg4)"/>
  <polygon points="3070,262 3085,266 3110,274 3140,294 3160,326 3171.5,358 3171.5,107 3070,107" fill="#1c3a80"/>
  <polygon points="3070,252 3085,256 3110,264 3140,284 3160,316 3171.5,346 3171.5,107 3070,107" fill="#e41424"/>
  <polygon points="3110,107 3171.5,107 3171.5,346 3150,250 3130,170" fill="#9c1830" opacity="0.6"/>
  <ellipse cx="3130" cy="112" rx="28" ry="50" fill="url(#blk)"/>
  <polygon points="3171.5,107 3273,107 3273,258 3240,262 3212,274 3192,308 3180,314 3171.5,306" fill="#1c3a80"/>
  <polygon points="3171.5,107 3273,107 3273,248 3240,252 3212,262 3192,296 3180,302 3171.5,294" fill="#dc1a2c"/>
  <polygon points="3250,107 3273,107 3273,150" fill="#500010" opacity="0.6"/>
  <polygon points="3171.5,449 3165,449 3140,330 3171.5,352" fill="#5a5ac8" opacity="0.8"/>
  <polygon points="3171.5,449 3177,449 3200,330 3171.5,310" fill="#7070e0" opacity="0.6"/>
  </g>
 </g>
 <g id="fig4bottom"></g>
 <g id="fig4axes"></g>
 <rect x="3287" y="107" width="7" height="342" fill="url(#cb4)" stroke="#333" stroke-width="0.6"/>
 <rect x="3287" y="486" width="7" height="166" fill="url(#cb4)" stroke="#333" stroke-width="0.6"/>

 <g id="fig1"></g>
 <g id="fig5"></g>
</svg>

<script>
// ===== Fig 1 data =====
const fig1Z = [0,5,10,15,20,30,40,50,60,70,80,90,100];
const fig1LogPressM2 = [-2.87,-3.08,-3.28,-3.44,-3.58,-3.86,-4.09,-4.28,-4.44,-4.58,-4.70,-4.80,-4.90];
const fig1LogPressM3 = [-2.87,-3.18,-3.49,-3.72,-3.92,-4.34,-4.70,-4.98,-5.22,-5.42,-5.60,-5.76,-5.90];
const fig1LogPressM4 = [-2.87,-3.27,-3.66,-3.99,-4.27,-4.78,-5.22,-5.58,-5.90,-6.17,-6.42,-6.66,-6.90];
const fig1LogRhoM2 = [0,-0.14,-0.28,-0.50,-0.70,-0.98,-1.22,-1.43,-1.61,-1.74,-1.84,-1.93,-2.02];
const fig1LogRhoM3 = [0,-0.24,-0.47,-0.73,-0.97,-1.40,-1.74,-2.02,-2.26,-2.49,-2.69,-2.87,-3.03];
const fig1LogRhoM4 = [0,-0.31,-0.62,-0.98,-1.31,-1.83,-2.26,-2.63,-2.95,-3.24,-3.51,-3.77,-4.03];
const fig1XTicks = [0,20,40,60,80,100];
const fig1PressTicks = [-3,-4,-5,-6,-7];
const fig1RhoTicks = [0,-1,-2,-3,-4];
const fig1Labels = ['m=2','m=3','m=4'];

// ===== Fig 5 data =====
const fig5RZ = [0,10,20,30,40,50,60,70,80,90,100];
const fig5ROPm2 = [0.9,1.3,1.9,2.9,3.3,3.7,4.2,4.8,5.3,5.6,5.75];
const fig5ROPm3 = [0.9,1.5,3.1,4.0,5.2,6.8,8.6,10.1,11.3,12.1,12.4];
const fig5ROPm4 = [0.9,1.4,5.0,9.0,12.8,16.0,18.9,20.8,22.0,22.9,23.5];
const fig5RPMm2 = [0.7,1.0,1.5,1.9,2.3,2.7,3.0,3.3,3.6,3.8,4.0];
const fig5RPMm3 = [0.7,1.3,2.7,3.6,4.4,5.0,5.8,6.6,7.6,8.6,9.5];
const fig5RPMm4 = [0.7,1.2,2.6,5.5,7.6,9.6,11.6,13.6,15.6,17.6,19.4];
const fig5OPZ = [0,4,6.5,10,15,19.5,23,27,29,33,37,41,46,53,59,64,70,75,79,83,90,95,100];
const fig5POPm2 = [-2.46,-3.72,-2.82,-3.3,-3.96,-3.44,-3.6,-3.75,-3.84,-4.2,-4.59,-4.19,-4.22,-4.28,-4.4,-4.53,-4.62,-4.71,-4.85,-5.03,-5.12,-5.16,-5.07];
const fig5POPm3 = [-2.46,-3.72,-2.94,-3.4,-3.96,-4.35,-4.65,-4.28,-4.35,-4.48,-4.59,-4.7,-4.88,-5.09,-5.28,-5.4,-5.56,-5.68,-5.78,-5.85,-5.93,-5.97,-6.0];
const fig5POPm4 = [-2.46,-3.72,-3.15,-3.5,-3.96,-4.35,-4.62,-4.9,-5.05,-5.35,-5.6,-5.75,-5.9,-5.72,-6.07,-6.1,-6.14,-6.16,-6.16,-6.25,-6.4,-6.5,-6.6];
const fig5PMZ = [0,9,18,29,40,50,61,64,72,83,92,100];
const fig5PPMm2 = [-2.43,-3.0,-3.53,-3.78,-3.96,-4.09,-4.15,-4.2,-4.4,-4.34,-4.46,-4.44];
const fig5PPMm3 = [-2.43,-3.1,-3.72,-4.34,-4.71,-4.96,-5.28,-5.33,-5.47,-5.6,-5.7,-5.72];
const fig5PPMm4 = [-2.43,-3.33,-4.1,-4.96,-5.34,-5.71,-5.85,-5.47,-5.85,-6.04,-6.2,-6.35];
const fig5VOPZ = [0,3,7,10,15,20,25,30,35,40,50,60,70,80,90,100];
const fig5VOPm2 = [0.50,0.64,0.51,0.57,0.62,0.60,0.57,0.60,0.62,0.62,0.59,0.60,0.61,0.612,0.617,0.62];
const fig5VOPm3 = [0.50,0.635,0.53,0.585,0.615,0.625,0.60,0.595,0.598,0.60,0.61,0.615,0.618,0.62,0.62,0.62];
const fig5VOPm4 = [0.50,0.63,0.55,0.58,0.61,0.62,0.628,0.63,0.63,0.63,0.625,0.625,0.622,0.62,0.622,0.625];
const fig5VPMZ = [0,3,10,20,30,40,50,60,65,68,75,80,90,100];
const fig5VPMm2 = [0.49,0.51,0.52,0.54,0.55,0.555,0.56,0.565,0.56,0.57,0.565,0.57,0.565,0.565];
const fig5VPMm3 = [0.49,0.51,0.53,0.55,0.56,0.57,0.575,0.58,0.58,0.578,0.582,0.583,0.585,0.585];
const fig5VPMm4 = [0.49,0.52,0.54,0.565,0.575,0.58,0.58,0.585,0.583,0.578,0.585,0.585,0.585,0.59];
const fig5XTicks = [0,20,40,60,80];
const fig5RTicks = [5,10,15,20,25,30];
const fig5PTicks = [-2,-3,-4,-5,-6,-7];
const fig5VTicks = [0.45,0.50,0.55,0.60,0.65];

// ===== Fig 3 / Fig 4 ticks =====
const fig3Ticks = [-35,-30,-25,-20,-15,-10,-5,0,5,10,15,20,25,30,35];
const fig3TLabels = ['1.6','1.9','2.1','2.3','2.5','2.7','2.9'];
const fig3RhoLabels = ['-21.1','-20.9','-20.7','-20.5','-20.2','-20.0','-19.8'];
const fig4ZTicksTop = [0,10,20,30,40,50,60,70,80,90,100];
const fig4RTicksTop = [-20,-10,0,10,20];
const fig4ZTicksBot = [0,2,4,6,8,10,12];
const fig4RTicksBot = [-6,-4,-2,0,2,4,6];
const fig4CbTop = [0.0,-0.5,-1.0,-1.5,-2.0,-2.5,-3.0,-3.5,-4.0];
const fig4CbBot = [-0.5,-0.9,-1.4,-1.9];
const fig4Models = ['m=2','m=3','m=4'];

const NS='http://www.w3.org/2000/svg';
function mk(tag,parent){const e=document.createElementNS(NS,tag);parent.appendChild(e);return e;}
function ln(p,x1,y1,x2,y2,s,w){const e=mk('line',p);e.setAttribute('x1',x1);e.setAttribute('y1',y1);e.setAttribute('x2',x2);e.setAttribute('y2',y2);e.setAttribute('stroke',s||'#333');e.setAttribute('stroke-width',w||0.7);return e;}
function tx(p,x,y,s,size,anchor,fill){const e=mk('text',p);e.setAttribute('x',x);e.setAttribute('y',y);e.setAttribute('font-size',size);e.setAttribute('text-anchor',anchor||'start');e.setAttribute('fill',fill||'#222');e.textContent=s;return e;}
function rc(p,x,y,w,h,fill,stroke){const e=mk('rect',p);e.setAttribute('x',x);e.setAttribute('y',y);e.setAttribute('width',w);e.setAttribute('height',h);e.setAttribute('fill',fill||'none');if(stroke){e.setAttribute('stroke',stroke);e.setAttribute('stroke-width',0.8);}return e;}
function lin(d0,d1,r0,r1){return v=>r0+(v-d0)/(d1-d0)*(r1-r0);}
function poly(p,xs,ys,sx,sy,color,w){const e=mk('polyline',p);e.setAttribute('points',xs.map((x,i)=>sx(x).toFixed(1)+','+sy(ys[i]).toFixed(1)).join(' '));e.setAttribute('fill','none');e.setAttribute('stroke',color);e.setAttribute('stroke-width',w||1);e.setAttribute('stroke-linejoin','round');return e;}
const sup={'-':'⁻','0':'⁰','1':'¹','2':'²','3':'³','4':'⁴','5':'⁵','6':'⁶','7':'⁷','8':'⁸','9':'⁹'};
function pow10(v){return '10'+String(v).split('').map(c=>sup[c]).join('');}

// ---- Fig 1 ----
(function(){
 const g=document.getElementById('fig1');
 const x0=1339,x1=1633;
 const sx=lin(0,100,x0,x1);
 const panels=[
  {y0:83,y1:267,dom:[-7.0,-2.87],ticks:fig1PressTicks,series:[fig1LogPressM2,fig1LogPressM3,fig1LogPressM4],lab:'p\u2090 [g cm\u207B\u00B3]',name:'fig1-pressure-panel'},
  {y0:267,y1:451,dom:[-4.14,0],ticks:fig1RhoTicks,series:[fig1LogRhoM2,fig1LogRhoM3,fig1LogRhoM4],lab:'\u03C1\u2090 [g cm\u207B\u00B3]',name:'fig1-density-panel'}];
 const cols=['#e04848','#4848d8','#3a9a3a'];
 panels.forEach(P=>{
  const pg=mk('g',g);
  
  
  const sy=lin(P.dom[0],P.dom[1],P.y1,P.y0);
  rc(pg,x0,P.y0,x1-x0,P.y1-P.y0,'none','#222');
  for(let z=0;z<=100;z+=5){const L=z%20===0?5:3;ln(pg,sx(z),P.y0,sx(z),P.y0+L);ln(pg,sx(z),P.y1,sx(z),P.y1-L);}
  P.ticks.forEach(t=>{const y=sy(t);ln(pg,x0,y,x0+5,y);ln(pg,x1,y,x1-5,y);
   for(let k=2;k<10;k++){const ym=sy(t+Math.log10(k));if(ym>P.y0&&ym<P.y1){ln(pg,x0,ym,x0+2.5,ym);ln(pg,x1,ym,x1-2.5,ym);}}
   const lt=tx(pg,x0-3,y+3,pow10(t),7.5,'end');
   
   });
  P.series.forEach((s,i)=>{const pl=poly(pg,fig1Z,s,sx,sy,cols[i],1);
   
   });
  const lg=mk('g',pg);
  
  
  rc(lg,1577,P.y0+5,50,40,'#fff','#333');
  fig1Labels.forEach((l,i)=>{const y=P.y0+13+i*11.5;ln(lg,1581,y,1596,y,cols[i],1.2);tx(lg,1600,y+3,l,8,'start');});
  const yl=tx(pg,1310,(P.y0+P.y1)/2,P.lab,8,'middle');
  yl.setAttribute('transform','rotate(-90 1310 '+((P.y0+P.y1)/2)+')');
  yl.setAttribute('font-family','Liberation Serif');
  
  
 });
 fig1XTicks.forEach(t=>{const l=tx(g,sx(t),462,String(t),8,'middle');
  
  });
 const xl=tx(g,(x0+x1)/2,478,'z [R\u2c7c]',8.5,'middle');
 xl.setAttribute('font-family','Liberation Serif');xl.setAttribute('font-style','italic');
 
 
})();

// ---- Fig 5 ----
(function(){
 const g=document.getElementById('fig5');
 const cols=['#e02828','#111','#2020d8'];
 const cols2=[[3488,3642],[3642,3797]];
 const rows=[
  {y0:101,y1:241,dom:[0.5,30.7],ticks:fig5RTicks,fmt:t=>String(t),lab:'r [R\u2c7c]',
   data:[[fig5RZ,[fig5ROPm2,fig5ROPm3,fig5ROPm4]],[fig5RZ,[fig5RPMm2,fig5RPMm3,fig5RPMm4]]]},
  {y0:241,y1:378,dom:[-7.0,-1.85],ticks:fig5PTicks,fmt:pow10,lab:'p_axial [\u03C1\u2090c\u00B2]',log:true,
   data:[[fig5OPZ,[fig5POPm2,fig5POPm3,fig5POPm4]],[fig5PMZ,[fig5PPMm2,fig5PPMm3,fig5PPMm4]]]},
  {y0:378,y1:515,dom:[0.45,0.68],ticks:fig5VTicks,fmt:t=>t.toFixed(2),lab:'v_z,axial [c]',
   data:[[fig5VOPZ,[fig5VOPm2,fig5VOPm3,fig5VOPm4]],[fig5VPMZ,[fig5VPMm2,fig5VPMm3,fig5VPMm4]]]}];
 const names=['OP','PM'];
 rows.forEach((R,ri)=>{
  const sy=lin(R.dom[0],R.dom[1],R.y1,R.y0);
  cols2.forEach((c,ci)=>{
   const pg=mk('g',g);
   
   
   const sx=lin(0,100,c[0],c[1]);
   rc(pg,c[0],R.y0,c[1]-c[0],R.y1-R.y0,'none','#333');
   for(let z=0;z<=100;z+=5){const L=z%20===0?4:2.5;ln(pg,sx(z),R.y0,sx(z),R.y0+L,'#555',0.6);ln(pg,sx(z),R.y1,sx(z),R.y1-L,'#555',0.6);}
   R.ticks.forEach(t=>{const y=sy(t);if(y<R.y0-0.5||y>R.y1+0.5)return;ln(pg,c[0],y,c[0]+4,y,'#555',0.6);ln(pg,c[1],y,c[1]-4,y,'#555',0.6);
    if(R.log){for(let k=2;k<10;k++){const ym=sy(t+Math.log10(k));if(ym>R.y0&&ym<R.y1){ln(pg,c[0],ym,c[0]+2,ym,'#777',0.5);ln(pg,c[1],ym,c[1]-2,ym,'#777',0.5);}}}});
   const D=R.data[ci];
   D[1].forEach((s,i)=>{const pl=poly(pg,D[0],s,sx,sy,cols[i],1.3);
    
    });
   const lb=tx(pg,c[1]-7,R.y0+21,names[ci],11,'end');
   
   
  });
  R.ticks.forEach(t=>{const y=sy(t);if(y<R.y0-1||y>R.y1+1)return;const l=tx(g,3485,y+2.5,R.fmt(t),6.5,'end');
   
   });
  const yl=tx(g,3467,(R.y0+R.y1)/2,R.lab,6.5,'middle');
  yl.setAttribute('transform','rotate(-90 3467 '+((R.y0+R.y1)/2)+')');
  yl.setAttribute('font-family','Liberation Serif');
  
  
 });
 cols2.forEach(c=>{const sx=lin(0,100,c[0],c[1]);
  fig5XTicks.forEach(t=>{const l=tx(g,sx(t),529,String(t),6.5,'middle');
   
   });
  const xl=tx(g,(c[0]+c[1])/2,543,'z [R\u2c7c]',7,'middle');
  xl.setAttribute('font-family','Liberation Serif');xl.setAttribute('font-style','italic');
  
  });
 const lg=mk('g',g);
 
 
 rc(lg,3488,90,309,11,'#fff','#555');
 [[3493,'start'],[3622,'start'],[3750,'start']].forEach((p,i)=>{ln(lg,p[0],95.5,p[0]+16,95.5,cols[i],1.3);tx(lg,p[0]+21,98,fig1Labels[i],6.5,'start');});
})();

// ---- Fig 3 ticks ----
(function(){
 const g=document.getElementById('fig3ticks');
 const sy=v=>268-v*4.457;
 fig3Ticks.forEach(t=>{
  const y=sy(t);ln(g,2172,y,2176,y,'#333',0.6);ln(g,2480,y,2476,y,'#333',0.6);
  const l=tx(g,2168,y+2.5,String(t).replace('-','\u2212'),7,'end');
  
  
  const x=2326+t*4.4;ln(g,x,424,x,420,'#333',0.6);
  const lx=tx(g,x,438,String(t).replace('-','\u2212'),7,'middle');
  
  
 });
 for(let v=-35;v<=35;v++){const x=2326+v*4.4;ln(g,x,424,x,422,'#555',0.4);const y=sy(v);ln(g,2172,y,2174,y,'#555',0.4);ln(g,2326,y,2328,y,'#555',0.4);}
 fig3TLabels.forEach((s,i)=>{const l=tx(g,2178+i*22,104,s,6,'middle');
  
  });
 fig3RhoLabels.forEach((s,i)=>{const l=tx(g,2339+i*22.5,104,s,5.5,'middle');
  
  });
})();

// ---- Fig 4 bottom row & axes ----
(function(){
 const gb=document.getElementById('fig4bottom');
 const ga=document.getElementById('fig4axes');
 const px=[2664,2867,3070];
 const redTop=[[ -2.6,12, 9],[ -3.2,12, 7],[-4.2,12, 3]];
 px.forEach((x0,i)=>{
  const cx=x0+101.5, y0=491, y1=648;
  const sr=r=>cx+r*12.69, sz=z=>y1-z*13.08;
  rc(gb,x0,y0,203,y1-y0,'url(#bgN)');
  const halo=mk('polygon',gb);
  halo.setAttribute('points',[sr(-3.4),y1,sr(2.6),y1,sr(4.6+i*0.4),y0,sr(-5-i*0.6),y0].join(' '));
  halo.setAttribute('fill','#8888e8');halo.setAttribute('opacity','0.75');
  const jet=mk('polygon',gb);
  jet.setAttribute('points',[sr(-2.6),y1,sr(1.8),y1,sr(3.4+i*0.3),y0,sr(-3.8-i*0.5),y0].join(' '));
  jet.setAttribute('fill','#4a4ab8');
  const rt=redTop[i];
  const red=mk('polygon',gb);
  red.setAttribute('points',[sr(rt[0]),y0,sr(0),y0,sr(0),sz(rt[2]),sr(-1),sz(rt[2]+1)].join(' '));
  red.setAttribute('fill','#e01830');red.setAttribute('opacity','0.9');
  const red2=mk('polygon',gb);
  red2.setAttribute('points',[sr(-1.2),sz(5.8),sr(0),sz(5.8),sr(0),sz(2.5),sr(-0.8),sz(2.5)].join(' '));
  red2.setAttribute('fill','#e01830');red2.setAttribute('opacity','0.9');
  [-1.5,-1,-0.5,0.5,1,1.5].forEach(r=>{const l=ln(gb,sr(r*0.9),y1,sr(r*2.1),y0,'#fff',0.7);l.setAttribute('opacity','0.8');});
  ln(gb,sr(-1.2),sz(5.6),sr(1.6),sz(5.6),'#fff',1.2).setAttribute('stroke-dasharray','1.5,1.5');
  ln(gb,cx,y0,cx,y1,'#111',0.8);
  rc(gb,x0,y0,203,y1-y0,'none','#333');
  ln(ga,cx,107,cx,449,'#111',0.8);
  rc(ga,x0,107,203,342,'none','#333');
  const sxT=r=>cx+r*3.38;
  fig4RTicksTop.forEach(t=>{ln(ga,sxT(t),449,sxT(t),445,'#333',0.6);const l=tx(ga,sxT(t),467,String(t).replace('-','\u2212'),9,'middle');
   
   });
  fig4RTicksBot.forEach(t=>{ln(ga,sr(t),648,sr(t),644,'#333',0.6);const l=tx(ga,sr(t),666,String(t).replace('-','\u2212'),9,'middle');
   
   });
  fig4ZTicksTop.forEach(t=>{const y=449-t*3.42;ln(ga,x0,y,x0+6,y,'#333',0.6);ln(ga,x0+203,y,x0+197,y,'#333',0.6);});
  fig4ZTicksBot.forEach(t=>{const y=sz(t);ln(ga,x0,y,x0+6,y,'#333',0.6);ln(ga,x0+203,y,x0+197,y,'#333',0.6);});
  [[476,'r [R\u2c7c]'],[680,'r [R\u2c7c]']].forEach(a=>{const l=tx(ga,cx,a[0]+4,a[1],10,'middle');l.setAttribute('font-family','Liberation Serif');l.setAttribute('font-style','italic');
   
   });
  const m1=tx(ga,x0+196,244,fig4Models[i],12,'end','#fff');
  
  
  const o1=tx(ga,x0+17,277,'OP',12,'start','#fff');
  
  
  const p1=tx(ga,cx+61,277,'PM',12,'start','#fff');
  
  
  const m2=tx(ga,x0+196,522,fig4Models[i],12,'end','#111');
  
  
  const o2=tx(ga,x0+17,547,'OP',12,'start','#111');
  
  
  const p2=tx(ga,cx+61,547,'PM',12,'start','#111');
  
  
 });
 fig4ZTicksTop.forEach(t=>{const l=tx(ga,2660,449-t*3.42+3.5,String(t),9.5,'end');
  
  });
 fig4ZTicksBot.forEach(t=>{const l=tx(ga,2660,648-t*13.08+3.5,String(t),9.5,'end');
  
  });
 [[278],[570]].forEach(a=>{const l=tx(ga,2632,a[0],'z [R\u2c7c]',10,'middle');l.setAttribute('transform','rotate(-90 2632 '+a[0]+')');l.setAttribute('font-family','Liberation Serif');l.setAttribute('font-style','italic');
  
  });
 fig4CbTop.forEach(v=>{const y=107+(-v)/4.0*312;ln(ga,3294,y,3297,y,'#333',0.6);const l=tx(ga,3298,y+3,v.toFixed(1).replace('-','\u2212'),8,'start');
  
  });
 fig4CbBot.forEach((v,i)=>{const y=519+i*33;ln(ga,3294,y,3297,y,'#333',0.6);const l=tx(ga,3298,y+3,String(v),7.5,'start');
  
  });
 [278,568].forEach(y=>{const l=tx(ga,3333,y,'log(\u03C1)',10,'middle');l.setAttribute('transform','rotate(-90 3333 '+y+')');l.setAttribute('font-family','Liberation Serif');
  
  });
})();
</script>
</body></html>
